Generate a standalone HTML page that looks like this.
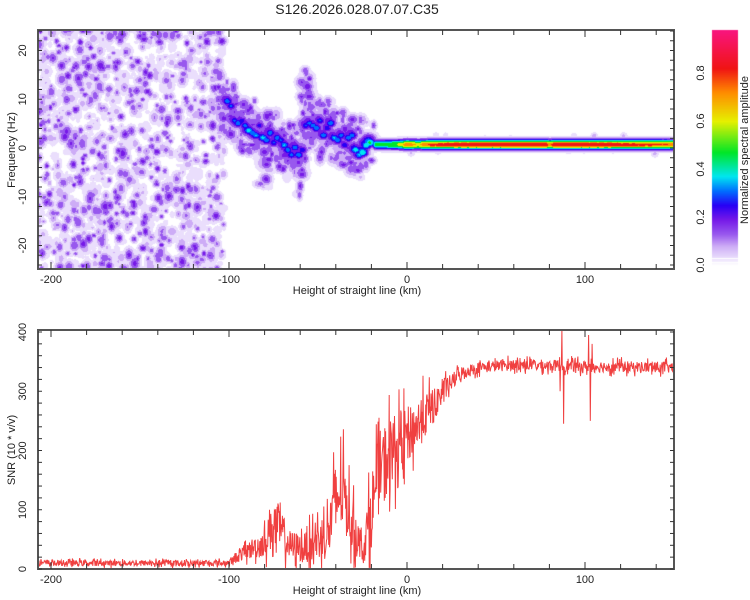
<!DOCTYPE html>
<html><head><meta charset="utf-8">
<style>
body{margin:0;background:#fff;width:750px;height:600px;overflow:hidden;font-family:"Liberation Sans",sans-serif;}
#wrap{position:relative;width:750px;height:600px;}
canvas,svg{position:absolute;left:0;top:0;}
</style></head>
<body><div id="wrap">
<canvas id="hm" width="750" height="600"></canvas>
<svg id="sv" width="750" height="600"></svg>
</div>
<script>
// ---- data ----
const ridgeKm   = [-104,-102,-100,-98,-96,-94,-92,-90,-88,-86,-84,-82,-80,-78,-76,-74,-72,-70,-68,-66,-64,-62,-60,-58,-56,-54,-52,-50,-48,-46,-44,-42,-40,-38,-36,-34,-32,-30,-28,-26,-24,-22,-57,-56,-80,-60];
const ridgeHz   = [ 6.5, 10, 9, 6, 5.5, 6, 5, 4, 3.5, 3, 5, 2.5, 2, 3.5, 1.5, 2.5, 2, 1, 0, -1, 0.5, -1, 0, 5, 5.5, 5, 4.5, 6, 3, 4.5, 5.5, 2.5, 2, 3, 1, 2.5, 3, 0, -1, -0.5, 1, 1.5, 13, 11, -3, -5];
const ridgeAmp  = [ 0.22, 0.36, 0.32, 0.32, 0.36, 0.3, 0.34, 0.42, 0.36, 0.38, 0.28, 0.4, 0.36, 0.36, 0.32, 0.36, 0.32, 0.38, 0.36, 0.34, 0.36, 0.36, 0.3, 0.32, 0.34, 0.36, 0.36, 0.32, 0.36, 0.3, 0.36, 0.38, 0.36, 0.34, 0.3, 0.36, 0.36, 0.42, 0.38, 0.47, 0.44, 0.5, 0.24, 0.22, 0.22, 0.22];
const bandKm    = [-18,-12,-6,0,6,12,20,40,60,78,80,82,100,120,140,152];
const bandAmp   = [0.5,0.55,0.6,0.82,0.7,0.85,0.88,0.9,0.9,0.9,0.75,0.9,0.9,0.88,0.85,0.8];
const bandHz    = 0.8;
const noiseKmMax = -105;

const snrKm     = [-208,-100,-96,-90,-80,-76,-72,-66,-58,-50,-44,-40,-36,-32,-28,-24,-20,-15,-10,-5,0,5,10,15,20,25,30,40,60,100,152];
const snrMean   = [10,10,20,30,45,75,70,40,35,50,60,120,130,90,50,40,100,170,190,210,225,240,260,275,300,315,330,340,345,342,340];
const snrSpread = [6,6,12,18,30,55,50,32,30,45,55,85,80,65,40,35,80,80,85,70,60,55,50,35,25,18,15,12,12,12,12];
const spikeKm   = [86,87,88,102,103,104];
const spikeVal  = [300,405,245,395,250,380];

const xTicksLab = [-200,-100,0,100];
const freqTicks = [-20,-10,0,10,20];
const snrTicks  = [0,100,200,300,400];
const cbTicks   = [0.0,0.2,0.4,0.6,0.8];

// ---- geometry ----
const L=38,R=674,T1=30,B1=269,T2=330,B2=569;
const xS=k=>407+k*1.78;
const yF=h=>148-h*4.875;
const yS=v=>569-v*0.5925;
const cbY=v=>265-v*240;

// deterministic texture generator
let seed=12345;
function rnd(){seed=(seed*1103515245+12345)%2147483648;return seed/2147483648;}
function interp(xs,ys,x){if(x<=xs[0])return ys[0];for(let i=1;i<xs.length;i++){if(x<=xs[i]){const t=(x-xs[i-1])/(xs[i]-xs[i-1]);return ys[i-1]+t*(ys[i]-ys[i-1]);}}return ys[ys.length-1];}

// ---- colormap ----
const cmapStops=[[0,[255,255,255]],[0.03,[234,222,252]],[0.08,[205,172,246]],[0.13,[152,88,238]],[0.19,[118,25,232]],[0.25,[40,0,245]],[0.31,[0,110,255]],[0.37,[0,230,240]],[0.47,[0,230,40]],[0.6,[230,240,0]],[0.72,[255,140,0]],[0.82,[240,20,20]],[1,[250,20,140]]];
function cmap(v){
  if(v<0.03)return null;
  for(let i=1;i<cmapStops.length;i++){if(v<=cmapStops[i][0]){return cmapStops[i-1][1];}}
  return cmapStops[cmapStops.length-1][1];
}
function cmapSmooth(v){
  for(let i=1;i<cmapStops.length;i++){if(v<=cmapStops[i][0]){const a=cmapStops[i-1],b=cmapStops[i];const t=(v-a[0])/(b[0]-a[0]);return a[1].map((c,j)=>Math.round(c+t*(b[1][j]-c)));}}
  return cmapStops[cmapStops.length-1][1];
}

// ---- heatmap ----
const W=R-L,H=B1-T1;
const field=new Float32Array(W*H);
function blob(cx,cy,rx,ry,a){
  const x0=Math.max(0,Math.floor(cx-L-rx*2.2)),x1=Math.min(W-1,Math.ceil(cx-L+rx*2.2));
  const y0=Math.max(0,Math.floor(cy-T1-ry*2.2)),y1=Math.min(H-1,Math.ceil(cy-T1+ry*2.2));
  for(let y=y0;y<=y1;y++)for(let x=x0;x<=x1;x++){
    const dx=(x+L-cx)/rx,dy=(y+T1-cy)/ry;const v=a*Math.exp(-(dx*dx+dy*dy)/2);
    const i=y*W+x;if(v>field[i])field[i]=v;}
}
// background noise texture
for(let n=0;n<1500;n++){
  const k=-210+rnd()*(noiseKmMax+2+210);
  const h=-26+rnd()*52;
  const r=1.7+rnd()*2.3;
  const a=0.04+Math.pow(rnd(),1.8)*0.19;
  blob(xS(k),yF(h),r,r*(0.8+rnd()*0.6),a);
}
// ridge halo
for(let i=0;i<ridgeKm.length;i++){
  for(let j=0;j<12;j++){
    blob(xS(ridgeKm[i]+(rnd()-0.5)*6),yF(ridgeHz[i]+(rnd()-0.5)*10),2+rnd()*3,2+rnd()*3,0.05+rnd()*0.17);
  }
  blob(xS(ridgeKm[i]),yF(ridgeHz[i]),6,5.5,ridgeAmp[i]*0.7);
  blob(xS(ridgeKm[i]+0.8),yF(ridgeHz[i]-0.3),4.2,3.4,ridgeAmp[i]);
}
// band
for(let k=bandKm[0];k<=152;k+=0.5){
  const a=interp(bandKm,bandAmp,k);
  blob(xS(k),yF(bandHz),2.2,3.3,a);
  if(rnd()<0.12)blob(xS(k),yF(bandHz+(rnd()-0.5)*4),2.5,2.5,0.05+rnd()*0.08);
}
const cv=document.getElementById('hm'),ctx=cv.getContext('2d');
const img=ctx.createImageData(W,H);
for(let i=0;i<W*H;i++){const c=cmap(field[i]);const p=i*4;
  if(c){img.data[p]=c[0];img.data[p+1]=c[1];img.data[p+2]=c[2];}else{img.data[p]=img.data[p+1]=img.data[p+2]=255;}
  img.data[p+3]=255;}
ctx.putImageData(img,L,T1);
// colorbar
for(let y=30;y<=270;y++){const v=(265-y)/240;const c=cmapSmooth(Math.max(0,Math.min(1,v)));
  ctx.fillStyle=`rgb(${c[0]},${c[1]},${c[2]})`;ctx.fillRect(712,y,26,1);}
ctx.fillStyle='#fff';for(let y=258;y<=270;y+=4){ctx.fillRect(712,y,26,1);}

// ---- SVG ----
const NS='http://www.w3.org/2000/svg';const sv=document.getElementById('sv');
function el(t,a,p){const e=document.createElementNS(NS,t);for(const k in a)e.setAttribute(k,a[k]);(p||sv).appendChild(e);return e;}
function txt(s,x,y,a){const e=el('text',Object.assign({x:x,y:y,'font-size':11,fill:'#222','text-anchor':'middle','font-family':'Liberation Sans, sans-serif'},a||{}));e.textContent=s;return e;}

// SNR line
let pts=[];
for(let k=-208;k<=152;k+=0.25){
  let v=interp(snrKm,snrMean,k)+interp(snrKm,snrSpread,k)*(rnd()*2-1)*(rnd()<0.3?1.4:0.8);
  for(let s=0;s<spikeKm.length;s++){if(Math.abs(k-spikeKm[s])<0.15)v=spikeVal[s];}
  v=Math.max(0,Math.min(405,v));
  pts.push(xS(k).toFixed(1)+','+yS(v).toFixed(1));
}
const defs=el('defs',{});
const cp=el('clipPath',{id:'c2'},defs);el('rect',{x:L,y:T2,width:R-L,height:B2-T2},cp);
const g2=el('g',{'clip-path':'url(#c2)'});
const line=el('polyline',{points:pts.join(' '),fill:'none',stroke:'#ee2b2b','stroke-width':1,'stroke-opacity':0.9},g2);



function frame(top,bot,yTicksMajor,yMinorStep,yMin,yMax,yf,name){
  const g=el('g',{});
  
  
  el('rect',{x:L,y:top,width:R-L,height:bot-top,fill:'none',stroke:'#555','stroke-width':2},g);
  for(let k=-200;k<=150;k+=20){const x=xS(k);const len=(k%100===0)?7:5;
    el('line',{x1:x,y1:bot,x2:x,y2:bot-len,stroke:'#333','stroke-width':1},g);
    el('line',{x1:x,y1:top,x2:x,y2:top+len,stroke:'#333','stroke-width':1},g);}
  for(let v=yMin;v<=yMax;v+=yMinorStep){const y=yf(v);if(y<top||y>bot)continue;
    el('line',{x1:L,y1:y,x2:L+4,y2:y,stroke:'#333'},g);el('line',{x1:R,y1:y,x2:R-4,y2:y,stroke:'#333'},g);}
  for(const k of xTicksLab){const t=txt(String(k),xS(k),bot+14,{});}
  for(const v of yTicksMajor){const t=txt(String(v),L-16,yf(v)+4,{transform:`rotate(-90 ${L-16} ${yf(v)})`});}
  const xl=txt('Height of straight line (km)',357,bot+25,{});
  
}
frame(T1,B1,freqTicks,2,-24,24,yF,'spectrogram-axes');
frame(T2,B2,snrTicks,20,0,400,yS,'snr-axes');
let t;
t=txt('Frequency (Hz)',15,150,{transform:'rotate(-90 15 150)'});
t=txt('SNR (10 * v/v)',15,450,{transform:'rotate(-90 15 450)'});
t=txt('S126.2026.028.07.07.C35',357,14,{'font-size':14});
for(const v of cbTicks){const y=cbY(v);t=txt(v.toFixed(1),704,y,{transform:`rotate(-90 704 ${y})`});}
t=txt('Normalized spectral amplitude',748,150,{transform:'rotate(-90 748 150)'});
const cbr=el('rect',{x:712,y:30,width:26,height:240,fill:'none',stroke:'none'});

</script>
</body></html>
